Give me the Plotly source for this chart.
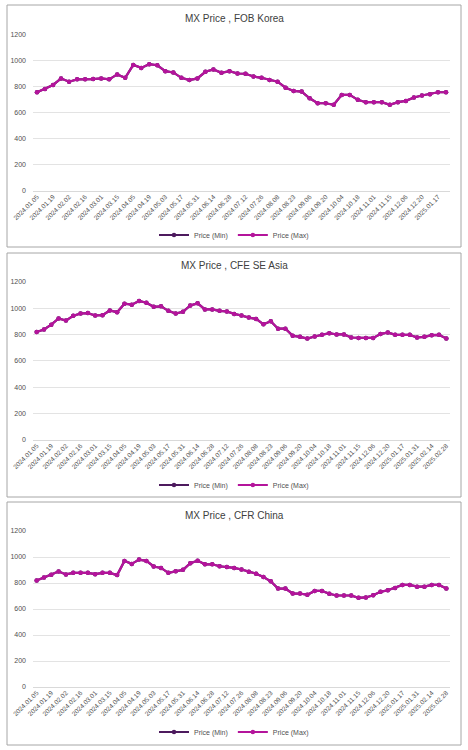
import plotly.graph_objects as go

# weekly category labels (every other one shown on the axis)
dates_all = [
    "2024.01.05", "2024.01.12", "2024.01.19", "2024.01.26", "2024.02.02", "2024.02.09",
    "2024.02.16", "2024.02.23", "2024.03.01", "2024.03.08", "2024.03.15", "2024.03.22",
    "2024.04.05", "2024.04.12", "2024.04.19", "2024.04.26", "2024.05.03", "2024.05.10",
    "2024.05.17", "2024.05.24", "2024.05.31", "2024.06.07", "2024.06.14", "2024.06.21",
    "2024.06.28", "2024.07.05", "2024.07.12", "2024.07.19", "2024.07.26", "2024.08.02",
    "2024.08.08", "2024.08.16", "2024.08.23", "2024.08.30", "2024.09.06", "2024.09.13",
    "2024.09.20", "2024.09.27", "2024.10.04", "2024.10.11", "2024.10.18", "2024.10.25",
    "2024.11.01", "2024.11.08", "2024.11.15", "2024.11.29", "2024.12.06", "2024.12.13",
    "2024.12.20", "2025.01.10", "2025.01.17", "2025.01.24", "2025.01.31", "2025.02.07",
    "2025.02.14", "2025.02.21", "2025.02.28",
]

dates_korea = dates_all[:52]
dates_asia = dates_all
dates_china = dates_all

korea_min = [757, 782, 813, 863, 838, 856, 856, 858, 863, 856, 894, 868, 967, 944, 972, 964,
             919, 909, 868, 851, 863, 914, 932, 906, 919, 901, 899, 878, 868, 851, 838, 792,
             767, 762, 711, 673, 673, 661, 737, 737, 699, 681, 681, 681, 661, 681, 691, 717,
             732, 742, 757, 757]
korea_max = list(korea_min)

asia_min = [818, 838, 874, 921, 905, 941, 959, 962, 944, 946, 982, 969, 1033, 1026, 1054, 1041,
            1010, 1013, 979, 959, 972, 1020, 1036, 990, 990, 979, 974, 956, 944, 928, 918, 877,
            900, 844, 844, 790, 782, 769, 785, 797, 810, 800, 800, 777, 774, 774, 774, 803,
            815, 797, 797, 797, 777, 782, 795, 797, 769]
asia_max = list(asia_min)

china_min = [820, 843, 863, 889, 866, 878, 878, 878, 868, 878, 878, 861, 970, 947, 980, 970,
             927, 916, 878, 891, 901, 952, 972, 944, 944, 929, 924, 916, 904, 886, 871, 846,
             813, 757, 757, 719, 719, 709, 739, 739, 717, 704, 704, 704, 686, 689, 706, 732,
             744, 762, 785, 785, 772, 772, 785, 785, 757]
china_max = list(china_min)

titles = ["MX Price , FOB Korea", "MX Price , CFE SE Asia", "MX Price , CFR China"]
series_names = ["Price (Min)", "Price (Max)"]
y_ticks = [0, 200, 400, 600, 800, 1000, 1200]

W, H = 468, 750
MIN_COLOR = "#4D1A5E"
MAX_COLOR = "#B4149B"
FONT = "Liberation Sans, Arial, sans-serif"
TXT = "#505050"

panels = [
    dict(x=dates_korea, mn=korea_min, mx=korea_max, top=34.5, bot=191, title_y=18.5,
         leg_y=235, box=(5, 247)),
    dict(x=dates_asia, mn=asia_min, mx=asia_max, top=281.7, bot=440, title_y=265.5,
         leg_y=485, box=(253, 497)),
    dict(x=dates_china, mn=china_min, mx=china_max, top=531, bot=687, title_y=515,
         leg_y=732, box=(502, 745)),
]

def py(p):
    return 1 - p / H

fig = go.Figure()
shapes = []
annotations = []
for i, p in enumerate(panels):
    k = "" if i == 0 else str(i + 1)
    xa = "x" + k
    ya = "y" + k
    leg = "legend" + k
    fig.add_trace(go.Scatter(
        x=p["x"], y=p["mn"], name=series_names[0], mode="lines+markers",
        line=dict(color=MIN_COLOR, width=2.2), marker=dict(size=4.5, color=MIN_COLOR),
        xaxis=xa, yaxis=ya, legend=leg))
    fig.add_trace(go.Scatter(
        x=p["x"], y=p["mx"], name=series_names[1], mode="lines+markers",
        line=dict(color=MAX_COLOR, width=2.2), marker=dict(size=4.5, color=MAX_COLOR),
        xaxis=xa, yaxis=ya, legend=leg))
    n = len(p["x"])
    fig.layout["xaxis" + k] = dict(
        domain=[33 / W, 450 / W], anchor=ya, type="category", automargin=False,
        range=[-0.5, n - 0.5], tickvals=p["x"][::2], ticktext=p["x"][::2],
        tickangle=-45, tickfont=dict(size=6.5, color=TXT, family=FONT),
        showgrid=False, showline=False, zeroline=False, ticks="", fixedrange=True)
    fig.layout["yaxis" + k] = dict(
        domain=[py(p["bot"]), py(p["top"])], anchor=xa, range=[0, 1200], automargin=False,
        tickvals=y_ticks, tickfont=dict(size=7, color=TXT, family=FONT),
        showgrid=True, gridcolor="#e3e3e3", gridwidth=1, zeroline=True,
        zerolinecolor="#d9d9d9", zerolinewidth=1, showline=False, ticks="",
        ticklabelstandoff=6, fixedrange=True)
    fig.layout[leg] = dict(
        orientation="h", x=0.5, xanchor="center", y=py(p["leg_y"]), yanchor="middle",
        font=dict(size=7, color=TXT, family=FONT), bgcolor="rgba(0,0,0,0)",
        itemwidth=30, tracegroupgap=0)
    annotations.append(dict(
        text=titles[i], x=0.5, xref="paper", y=py(p["title_y"]), yref="paper",
        xanchor="center", yanchor="middle", showarrow=False,
        font=dict(size=10, color="#404040", family=FONT)))
    t, b = p["box"]
    shapes.append(dict(type="rect", xref="paper", yref="paper",
                       x0=7 / W, x1=461 / W, y0=py(b), y1=py(t),
                       line=dict(color="#a6a6a6", width=1)))

fig.update_layout(
    width=W, height=H, autosize=False,
    margin=dict(l=0, r=0, t=0, b=0, autoexpand=False),
    paper_bgcolor="white", plot_bgcolor="white",
    showlegend=True, shapes=shapes, annotations=annotations,
    font=dict(family=FONT, color=TXT),
)

fig.write_html(
    "out.html",
    config={"displayModeBar": False},
    post_script="document.body.style.margin='0';document.body.style.overflow='hidden';",
)
